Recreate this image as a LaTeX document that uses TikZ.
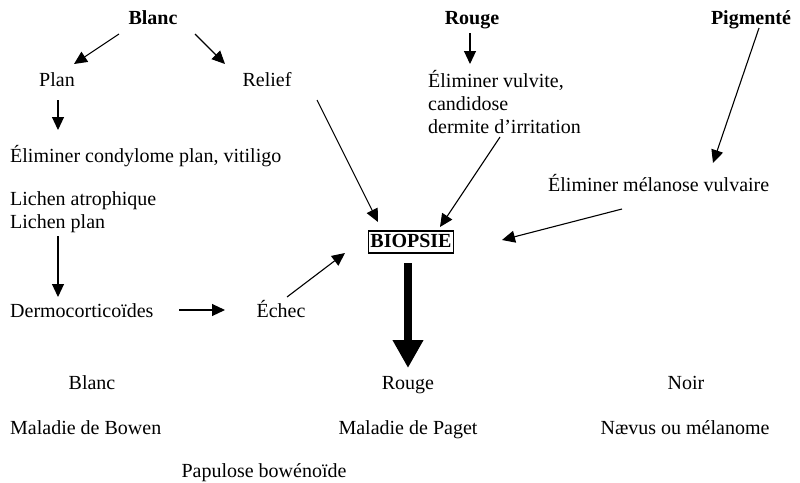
\documentclass[tikz,border=0pt]{standalone}
\usepackage{fontspec}
\setmainfont{Liberation Serif}
\usetikzlibrary{arrows.meta}
\begin{document}
\begin{tikzpicture}[x=1pt,y=-1pt,
  txt/.style={inner sep=0pt, font=\fontsize{20}{23}\selectfont,
    text height=14pt, text depth=4pt, anchor=base},
  head/.style={txt, font=\fontsize{20}{23}\selectfont\bfseries},
  block/.style={inner sep=0pt, font=\fontsize{20}{23}\selectfont,
    align=left, anchor=base west},
  arr/.style={line width=1.1pt, -{Triangle[length=13pt,width=12pt]}},
  bigarr/.style={line width=8pt, -{Triangle[length=28pt,width=29pt]}},
  boxed/.style={head, draw, line width=1.1pt, inner xsep=1.5pt, inner ysep=2pt}
]
\useasboundingbox (0,0) rectangle (800,482);

% colour headings
\node[head] (blancT) at (153,24) {Blanc};
\node[head] (rougeT) at (472,24) {Rouge};
\node[head] (pigm)   at (751,24) {Pigmenté};

% white branch
\node[txt] (plan)   at (57,86)  {Plan};
\node[txt] (relief) at (267,86) {Relief};
\node[txt, anchor=base west] (condy) at (10,162) {Éliminer condylome plan, vitiligo};
% multi-line blocks: base anchor sits on the last line
\node[block] (lichen) at (10,228) {Lichen atrophique\\Lichen plan};
\node[txt, anchor=base west] (dermo) at (10,317) {Dermocorticoïdes};
\node[txt] (echec) at (281,317) {Échec};

% red and pigmented branches
\node[block] (vulv) at (428,133) {Éliminer vulvite,\\candidose\\dermite d’irritation};
\node[txt, anchor=base west] (melan) at (548,191) {Éliminer mélanose vulvaire};

% biopsy
\node[boxed] (biop) at (411,247) {BIOPSIE};

% results
\node[txt] (blancB) at (92,389)  {Blanc};
\node[txt] (rougeB) at (408,389) {Rouge};
\node[txt] (noir)   at (686,389) {Noir};
\node[txt, anchor=base west] (bowen) at (10,434) {Maladie de Bowen};
\node[txt] (paget)  at (408,434) {Maladie de Paget};
\node[txt] (naevus) at (685,434) {Nævus ou mélanome};
\node[txt] (papul)  at (264,477) {Papulose bowénoïde};

% connectors
\draw[arr] ([shift={(-34,15)}]blancT.center) -- ([shift={(17,-17)}]plan.center);
\draw[arr] ([shift={(42,15)}]blancT.center) -- ([shift={(-42,-17)}]relief.center);
\draw[arr] ([shift={(1,19)}]plan.center) -- ([shift={(48,-32)}]condy.base west);
\draw[arr] ([shift={(48,8)}]lichen.base west) -- ([shift={(48,-20)}]dermo.base west);
\draw[arr] ([shift={(169,-7)}]dermo.base west) -- ([shift={(-56,-2)}]echec.center);
\draw[arr] ([shift={(6,-15)}]echec.center) -- ([shift={(-66,11)}]biop.center);
\draw[arr] ([shift={(50,19)}]relief.center) -- ([shift={(-33,-20)}]biop.center);
\draw[arr] ([shift={(-2,14)}]rougeT.center) -- ([shift={(42,-69)}]vulv.base west);
\draw[arr] ([shift={(72,4)}]vulv.base west) -- ([shift={(29,-15)}]biop.center);
\draw[arr] ([shift={(8,9)}]pigm.center) -- ([shift={(165,-28)}]melan.base west);
\draw[arr] ([shift={(74,18)}]melan.base west) -- ([shift={(91,-2)}]biop.center);
\draw[bigarr] ([shift={(-3,21)}]biop.center) -- ([shift={(0,-16)}]rougeB.center);
\end{tikzpicture}
\end{document}
